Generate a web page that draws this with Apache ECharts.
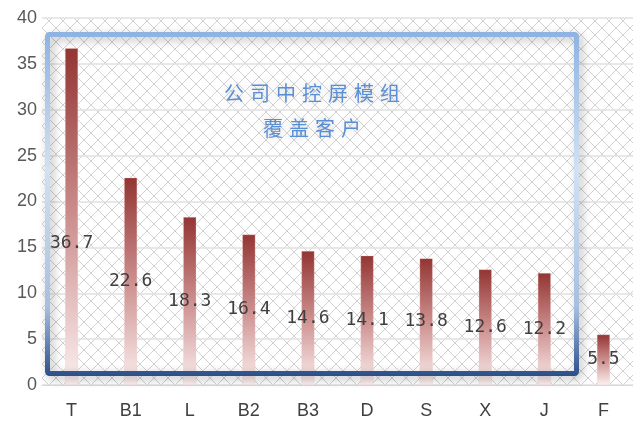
<!DOCTYPE html>
<html>
<head>
<meta charset="utf-8">
<script src="https://cdn.jsdelivr.net/npm/echarts@6/dist/echarts.min.js"></script>
<style>
  html, body { margin: 0; padding: 0; background: #ffffff; }
  #chart { width: 633px; height: 425px; }
</style>
</head>
<body>
<div id="chart"></div>
<script>
// Customers using the company's central-control-screen modules
const categories = ['T', 'B1', 'L', 'B2', 'B3', 'D', 'S', 'X', 'J', 'F'];
const values = [36.7, 22.6, 18.3, 16.4, 14.6, 14.1, 13.8, 12.6, 12.2, 5.5];
const titleLines = ['公司中控屏模组', '覆盖客户'];

// Diagonal lattice tile for the plot background
function latticeTile() {
  const c = document.createElement('canvas');
  const n = 14;
  c.width = n; c.height = n;
  const ctx = c.getContext('2d');
  ctx.fillStyle = '#ffffff';
  ctx.fillRect(0, 0, n, n);
  ctx.fillStyle = '#d2d2d2';
  for (let i = 0; i < n; i++) {
    ctx.fillRect(i, i, 1, 1);
    ctx.fillRect(n - 1 - i, i, 1, 1);
  }
  return c;
}

const chart = echarts.init(document.getElementById('chart'), null, { renderer: 'canvas' });

const barFill = new echarts.graphic.LinearGradient(0, 0, 0, 1, [
  { offset: 0, color: '#933533' },
  { offset: 0.5, color: '#cc8f8e' },
  { offset: 1, color: '#fcf0f0' }
]);

// the tallest bar's label sits a little below its middle
const labelShift = { 0: [0, 27] };

const barData = values.map((v, i) => {
  const item = { value: v };
  if (labelShift[i]) item.label = { offset: labelShift[i] };
  return item;
});

// framed caption drawn as characters with even spacing
const captionGraphics = [];
const pitch = 26;
const cx = 312;
titleLines.forEach((line, li) => {
  const chars = Array.from(line);
  chars.forEach((ch, ci) => {
    captionGraphics.push({
      type: 'text',
      x: cx + (ci - (chars.length - 1) / 2) * pitch,
      y: 93 + li * 35,
      z: 100,
      style: {
        text: ch,
        fill: '#5a8fd6',
        font: '20px "Noto Sans CJK SC"',
        textAlign: 'center',
        textVerticalAlign: 'middle',
        textShadowColor: 'rgba(110,110,110,0.35)',
        textShadowBlur: 8
      }
    });
  });
});

chart.setOption({
  animation: false,
  backgroundColor: '#ffffff',
  grid: {
    left: 42, right: -1, top: 18, bottom: 40,
    show: true,
    borderWidth: 0,
    backgroundColor: { image: latticeTile(), repeat: 'repeat' }
  },
  xAxis: {
    type: 'category',
    data: categories,
    axisLine: { lineStyle: { color: '#d9d9d9', width: 1 } },
    axisTick: { show: false },
    axisLabel: {
      color: '#404040',
      fontFamily: '"Liberation Sans Narrow", "Liberation Sans", sans-serif',
      fontSize: 18,
      margin: 17
    }
  },
  yAxis: {
    type: 'value',
    min: 0, max: 40, interval: 5,
    axisLine: { show: false },
    axisTick: { show: false },
    splitLine: { lineStyle: { color: '#e0e0e0', width: 1.5 } },
    axisLabel: {
      color: '#595959',
      fontFamily: '"Liberation Sans", Arial, sans-serif',
      fontSize: 18,
      margin: 5
    }
  },
  series: [{
    type: 'bar',
    data: barData,
    barWidth: 13,
    itemStyle: { color: barFill, borderColor: 'rgba(240,200,200,0.6)', borderWidth: 0.5 },
    label: {
      show: true,
      position: 'inside',
      color: '#404040',
      fontFamily: '"DejaVu Sans Mono", monospace',
      fontSize: 18
    },
    z: 2
  }],
  graphic: [
    {
      type: 'rect',
      z: 90,
      shape: { x: 47.5, y: 34.5, width: 529, height: 339, r: 2 },
      style: {
        fill: 'rgba(0,0,0,0)',
        stroke: new echarts.graphic.LinearGradient(0, 0, 0, 1, [
          { offset: 0, color: '#8db3e2' },
          { offset: 0.4, color: '#d2e1f3' },
          { offset: 0.8, color: '#a6bfe0' },
          { offset: 1, color: '#2b4f8a' }
        ]),
        lineWidth: 5,
        shadowBlur: 10,
        shadowColor: 'rgba(0,0,0,0.3)',
        shadowOffsetX: 3,
        shadowOffsetY: 3
      }
    }
  ].concat(captionGraphics)
});
</script>
</body>
</html>
